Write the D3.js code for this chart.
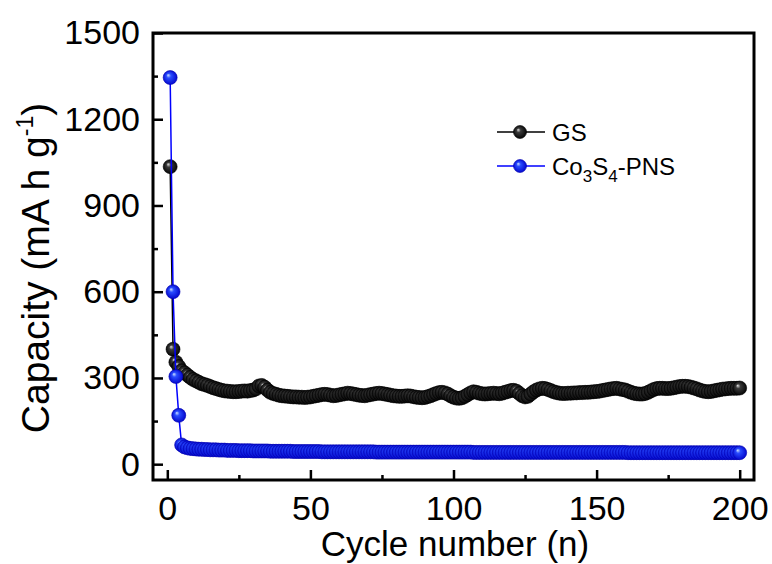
<!DOCTYPE html>
<html><head><meta charset="utf-8">
<script src="https://cdn.jsdelivr.net/npm/d3@7"></script>
<style>body{margin:0;background:#fff}svg{display:block}text{font-family:"Liberation Sans",Arial,sans-serif;fill:#000}</style>
</head><body>
<svg id="c" width="772" height="564"></svg>
<script>
const seriesNames = ["GS", "Co3S4-PNS"];
const xTicks = [0, 50, 100, 150, 200];
const yTicks = [0, 300, 600, 900, 1200, 1500];
const gsValues = [
1035,400,355,340,325,318,310,302,295,290,
285,280,277,274,270,266,263,260,257,255,
254,253,252,252,253,254,255,254,256,258,
262,272,274,268,258,250,246,243,240,238,
237,236,235,234,234,233,233,232,233,234,
236,238,240,242,243,242,240,238,239,241,
243,245,247,246,244,242,240,239,238,240,
242,244,246,247,246,244,242,240,238,237,
236,236,237,238,237,235,233,232,231,232,
235,238,242,246,249,250,248,244,238,233,
230,229,231,236,242,248,252,250,247,245,
244,245,246,247,246,245,247,250,253,256,
257,254,246,238,234,236,244,252,258,262,
264,263,260,256,252,249,247,246,246,247,
247,248,248,249,249,250,250,251,252,253,
254,256,258,260,262,263,264,262,260,258,
254,250,247,245,244,244,246,250,255,260,
263,264,264,263,263,264,266,268,270,271,
271,270,268,265,262,258,255,253,252,253,
255,257,259,261,262,263,264,264,264,265];
const co3s4Values = [
1345,600,305,170,67,60,57,55,54,53,
52,52,51,51,50,50,50,49,49,49,
48,48,48,48,47,47,47,47,47,46,
46,46,46,46,46,45,45,45,45,45,
45,45,45,44,44,44,44,44,44,44,
44,44,44,43,43,43,43,43,43,43,
43,43,43,43,43,43,43,43,43,43,
43,43,42,42,42,42,42,42,42,42,
42,42,42,42,42,42,42,42,42,42,
42,42,42,42,42,42,42,42,42,42,
42,42,42,42,42,42,41,41,41,41,
41,41,41,41,41,41,41,41,41,41,
41,41,41,41,41,41,41,41,41,41,
41,41,41,41,41,41,41,41,41,41,
41,41,41,41,41,41,41,41,41,41,
41,41,41,41,41,41,41,41,41,41,
40,40,40,40,40,40,40,40,40,40,
40,40,40,40,40,40,40,40,40,40,
40,40,40,40,40,40,40,40,40,40,
40,40,40,40,40,40,40,40,40,40];
const cycles = gsValues.map((_, i) => i + 1);

const svg = d3.select("#c");
const L = 153, R = 754, T = 33, B = 480;
const x = d3.scaleLinear().domain([-5, 205]).range([L, R]);
const y = d3.scaleLinear().domain([-55, 1500]).range([B, T]);

const defs = svg.append("defs");
function grad(id, hi, mid, edge) {
  const g = defs.append("radialGradient").attr("id", id)
    .attr("cx", "50%").attr("cy", "50%").attr("r", "55%").attr("fx", "35%").attr("fy", "32%");
  g.append("stop").attr("offset", "0%").attr("stop-color", hi);
  g.append("stop").attr("offset", "30%").attr("stop-color", mid);
  g.append("stop").attr("offset", "100%").attr("stop-color", edge);
}
grad("gBlack", "#e0e0e0", "#3a3a3a", "#000");
grad("gBlue", "#cfe3ff", "#2a4dff", "#0000c8");

const frame = svg.append("g");
frame.append("rect").attr("x", L).attr("y", T).attr("width", R - L).attr("height", B - T)
  .attr("fill", "none").attr("stroke", "#000").attr("stroke-width", 3);

const xAxis = d3.axisBottom(x).tickValues(xTicks).tickSize(-10).tickFormat(d3.format("d")).tickPadding(16);
const gx = svg.append("g").attr("transform", `translate(0,${B})`).call(xAxis);
const xMinor = d3.axisBottom(x).tickValues(d3.range(25, 200, 50)).tickSize(-5).tickFormat("");
svg.append("g").attr("transform", `translate(0,${B})`).call(xMinor);

const yAxis = d3.axisLeft(y).tickValues(yTicks).tickSize(-10).tickFormat(d3.format("d")).tickPadding(13);
const gy = svg.append("g").attr("transform", `translate(${L},0)`).call(yAxis);
const yMinor = d3.axisLeft(y).tickValues(d3.range(150, 1500, 300)).tickSize(-5).tickFormat("");
svg.append("g").attr("transform", `translate(${L},0)`).call(yMinor);

svg.selectAll(".domain").remove();
svg.selectAll(".tick line").attr("stroke", "#000").attr("stroke-width", 2.5);
gx.selectAll("text").style("font-size", "34px").attr("dy", "0.71em");
gy.selectAll("text").style("font-size", "34px");

svg.append("text").attr("x", 455).attr("y", 556).attr("text-anchor", "middle")
  .style("font-size", "35px").text("Cycle number (n)");
const yt = svg.append("text").attr("transform", `translate(49,${268}) rotate(-90)`)
  .attr("text-anchor", "middle").style("font-size", "39px");
yt.append("tspan").text("Capacity (mA h g");
yt.append("tspan").attr("dy", "-16").style("font-size", "23px").text("-1");
yt.append("tspan").attr("dy", "16").text(")");

const plot = svg.append("g");
function drawSeries(vals, color, gid, r) {
  const data = vals.map((v, i) => [cycles[i], v]);
  plot.append("path").datum(data).attr("fill", "none").attr("stroke", color).attr("stroke-width", 1.5)
    .attr("d", d3.line().x(d => x(d[0])).y(d => y(d[1])));
  plot.append("g").selectAll("circle").data(data).join("circle")
    .attr("cx", d => x(d[0])).attr("cy", d => y(d[1])).attr("r", r)
    .attr("fill", `url(#${gid})`).attr("stroke", color === "#000" ? "#000" : "#0000b0").attr("stroke-width", 0.6);
}
drawSeries(gsValues, "#000", "gBlack", 7);
drawSeries(co3s4Values, "#0000ff", "gBlue", 7);

const leg = svg.append("g");
const legItems = [
  { name: "GS", color: "#000", gid: "gBlack", y: 132 },
  { name: "Co3S4-PNS", color: "#0000ff", gid: "gBlue", y: 166 }
];
legItems.forEach(it => {
  leg.append("line").attr("x1", 497).attr("x2", 545).attr("y1", it.y).attr("y2", it.y)
    .attr("stroke", it.color).attr("stroke-width", 1.5);
  leg.append("circle").attr("cx", 520).attr("cy", it.y).attr("r", 6.5)
    .attr("fill", `url(#${it.gid})`).attr("stroke", it.color === "#000" ? "#000" : "#0000b0").attr("stroke-width", 0.6);
});
leg.append("text").attr("x", 552).attr("y", 132).attr("dy", "0.36em").style("font-size", "24px").text("GS");
const t2 = leg.append("text").attr("x", 552).attr("y", 166).attr("dy", "0.36em").style("font-size", "24px");
t2.append("tspan").text("Co");
t2.append("tspan").attr("dy", 7).style("font-size", "17px").text("3");
t2.append("tspan").attr("dy", -7).text("S");
t2.append("tspan").attr("dy", 7).style("font-size", "17px").text("4");
t2.append("tspan").attr("dy", -7).text("-PNS");
</script>
</body></html>
